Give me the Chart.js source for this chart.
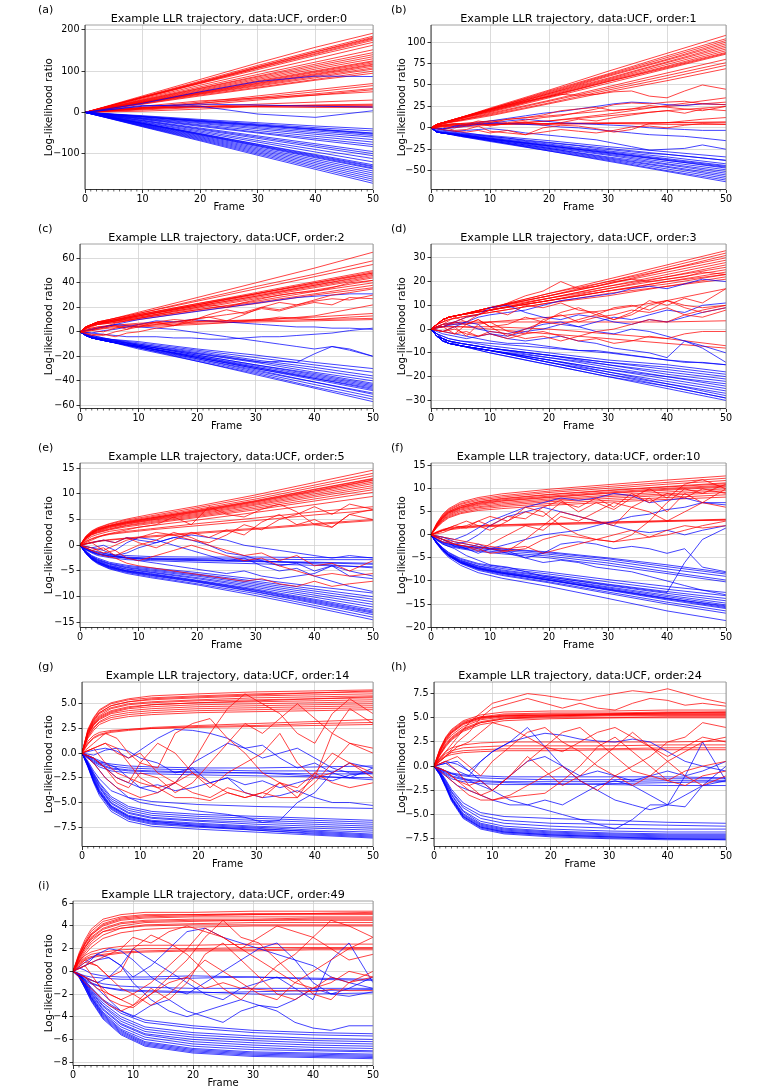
<!DOCTYPE html>
<html><head><meta charset="utf-8">
<script src="https://cdn.jsdelivr.net/npm/chart.js@4.4.1/dist/chart.umd.min.js"></script>
<style>
html,body{margin:0;padding:0;background:#fff}
body{width:762px;height:1091px;position:relative;overflow:hidden;font-family:"DejaVu Sans",sans-serif}
canvas{position:absolute}
.lab{position:absolute;font-size:11px;line-height:14px;color:#000}
</style></head><body>
<script>
// ---------- x positions (frames) ----------
const framesA = [0,10,20,30,40,50];
const framesB = [0,1,2,5,10,20,30,40,50];
const framesCD = [0,1,2,3,5,10,20,30,40,50];
const framesS = [0,1,2,3,5,8,12,20,30,40,50];
const framesJ = [0,2,4,6,8,10,13,16,19,22,25,28,31,34,37,40,43,46,50];
const xTicks = [0,10,20,30,40,50];
const orders = [0,1,2,3,5,10,14,24,49];
const letters = ['a','b','c','d','e','f','g','h','i'];
const yTicksA = [-100,0,100,200];
const yTicksB = [-50,-25,0,25,50,75,100];
const yTicksC = [-60,-40,-20,0,20,40,60];
const yTicksD = [-30,-20,-10,0,10,20,30];
const yTicksE = [-15,-10,-5,0,5,10,15];
const yTicksF = [-20,-15,-10,-5,0,5,10,15];
const yTicksG = [-7.5,-5,-2.5,0,2.5,5];
const yTicksH = [-7.5,-5,-2.5,0,2.5,5,7.5];
const yTicksI = [-8,-6,-4,-2,0,2,4,6];

// ---------- (a) order 0 ----------
const redA = [
[0,40,80,120,158,192],[0,38,76,114,150,185],[0,37,74,111,147,182],[0,37,73,110,146,180],
[0,36,72,108,143,178],[0,36,71,107,141,175],[0,35,70,104,138,170],[0,33,66,98,130,163],
[0,31,62,92,122,152],[0,30,59,88,117,145],[0,29,58,86,113,140],[0,28,56,83,109,135],
[0,27,54,80,105,130],[0,26,52,77,101,125],[0,25,50,75,99,123],[0,25,49,73,97,120],
[0,24,48,71,94,117],[0,24,47,70,92,115],[0,23,46,68,90,112],[0,23,45,66,87,108],
[0,22,44,64,84,105],[0,21,42,61,80,100],[0,20,40,59,78,95],[0,12,25,40,55,70],
[0,10,22,36,50,65],[0,10,22,33,45,58],[0,8,18,30,42,55],[0,15,28,35,42,50],
[0,8,14,20,25,30],[0,12,15,16,17,18],[0,10,14,15,16,16],[0,6,12,15,15,14],
[0,12,14,13,12,12],[0,3,8,15,18,20]
];
const blueA = [
[0,22,50,75,88,87],[0,15,20,18,15,13],[0,17,15,-4,-12,4],
[0,-8,-17,-25,-33,-40],[0,-9,-19,-28,-37,-45],[0,-10,-20,-30,-40,-50],[0,-10,-21,-31,-41,-51],
[0,-11,-22,-32,-42,-53],[0,-11,-23,-34,-45,-56],[0,-13,-25,-37,-49,-60],[0,-14,-27,-40,-53,-66],
[0,-15,-30,-44,-58,-72],[0,-16,-32,-48,-63,-78],[0,-17,-34,-50,-67,-83],[0,-19,-38,-57,-76,-95],
[0,-20,-40,-60,-80,-100],[0,-21,-42,-63,-84,-105],[0,-23,-45,-68,-90,-112],[0,-24,-48,-72,-96,-120],
[0,-26,-51,-77,-102,-127],[0,-26,-52,-78,-104,-130],[0,-27,-53,-80,-106,-132],[0,-27,-54,-81,-108,-135],
[0,-28,-55,-83,-110,-137],[0,-29,-57,-86,-114,-142],[0,-30,-59,-89,-118,-147],[0,-31,-61,-92,-122,-152],
[0,-32,-63,-95,-126,-157],[0,-33,-65,-98,-130,-162],[0,-34,-67,-101,-134,-167],[0,-35,-69,-104,-138,-172]
];

// ---------- (b) order 1 ----------
const redB = [
[0,4,6,12,23,44,66,87,108],[0,4,6,12,22,43,63,84,104],[0,4,6,12,22,42,62,82,102],
[0,4,6,12,22,41,61,80,100],[0,4,6,12,21,40,60,79,98],[0,4,6,12,21,40,58,77,96],
[0,4,6,11,21,39,57,76,94],[0,4,6,11,20,38,56,74,92],[0,4,6,11,20,37,55,72,90],
[0,4,6,11,19,37,54,71,88],[0,4,6,11,19,36,54,70,87],[0,3,5,10,18,35,52,69,86],
[0,3,5,9,17,32,48,64,80],[0,3,5,9,16,31,46,61,76],[0,3,5,9,15,29,44,58,73],
[0,3,5,8,14,28,42,55,69],[0,2,2,1,3,8,16,26,35],[0,2,3,5,8,14,20,25,30],
[0,3,4,5,5,5,6,6,6],[0,2,3,4,4,5,5,6,7],[0,1,2,3,4,8,14,20,25],[0,2,3,3,4,4,5,4,4]
];
const blueB = [
[0,-5,-6,-10,-16,-27,-39,-51,-63],[0,-5,-6,-10,-15,-27,-38,-50,-61],[0,-5,-6,-9,-15,-26,-37,-48,-59],
[0,-5,-6,-9,-15,-25,-36,-46,-57],[0,-5,-6,-9,-14,-24,-35,-45,-55],[0,-5,-6,-9,-14,-24,-34,-43,-53],
[0,-5,-6,-9,-13,-23,-32,-42,-51],[0,-5,-6,-9,-13,-22,-31,-40,-49],[0,-5,-6,-8,-13,-21,-30,-38,-47],
[0,-5,-6,-8,-13,-21,-29,-38,-46],[0,-5,-6,-8,-12,-21,-29,-37,-45],[0,-5,-6,-8,-12,-20,-28,-36,-44],
[0,-4,-5,-7,-11,-19,-27,-34,-42],[0,-4,-5,-7,-10,-17,-24,-31,-38],[0,-3,-4,-6,-9,-15,-22,-28,-34]
];
const redBJ = [
[0,5,9,13,17,21,26,31,35,39,38,39,42,43,37,35,43,50,45],
[0,3,5,4,8,6,10,12,15,20,22,24,20,22,26,24,22,20,25],
[0,1,-3,-2,2,-4,-6,-8,0,3,2,-1,-5,-2,5,6,8,10,12],
[0,2,0,3,6,2,5,7,3,6,10,8,12,15,18,20,17,22,20],
[0,-2,-4,-5,-3,-6,-3,-8,-5,-2,-4,-6,-3,1,2,0,3,5,4],
[0,2,4,3,5,8,6,9,12,14,18,22,27,29,28,30,31,28,27]
];
const blueBJ = [
[0,-2,2,4,6,8,11,14,17,19,22,25,28,30,29,27,26,28,27],
[0,-1,0,2,4,5,8,10,8,6,5,4,3,2,0,-1,-2,-3,-3],
[0,-3,-4,-3,-2,-1,-3,-6,-8,-10,-12,-14,-18,-22,-26,-25,-24,-20,-25],
[0,-2,-4,-6,-8,-10,-12,-15,-17,-19,-21,-24,-26,-28,-30,-31,-33,-35,-38],
[0,-1,1,3,5,6,5,4,3,1,0,-2,-4,-6,-8,-9,-10,-12,-15]
];

// ---------- (c) order 2 ----------
const redC = [
[0,4,6,8,10,16,28,40,52,65],[0,4,6,8,10,15,26,37,47,58],[0,4,6,8,10,15,25,35,45,55],
[0,4,6,8,9,14,23,32,41,50],[0,4,6,8,9,14,22,31,39,48],[0,4,6,7,9,13,22,30,38,47],
[0,3,5,7,9,13,21,29,38,46],[0,3,5,7,8,13,21,29,37,45],[0,3,5,7,8,12,20,28,36,44],
[0,3,5,6,8,12,19,27,34,42],[0,3,5,6,8,11,18,25,33,40],[0,3,5,6,7,11,18,24,31,38],
[0,3,4,6,7,10,17,23,30,36],[0,4,6,7,8,13,22,31,40,48],[0,4,6,8,9,14,23,31,40,49],
[0,1,2,3,4,5,7,8,9,10],[0,2,3,4,5,6,8,10,12,15],[0,1,2,2,3,4,6,9,13,22],[0,2,3,4,5,7,9,9,10,11]
];
const blueC = [
[0,-3,-5,-6,-8,-14,-24,-35,-46,-57],[0,-3,-5,-6,-8,-13,-24,-34,-45,-55],[0,-3,-5,-6,-8,-13,-23,-33,-43,-53],
[0,-3,-5,-6,-8,-13,-22,-32,-41,-51],[0,-3,-5,-6,-8,-12,-22,-31,-41,-50],[0,-3,-5,-6,-8,-12,-21,-30,-39,-48],
[0,-3,-5,-6,-8,-12,-21,-30,-38,-47],[0,-3,-5,-6,-8,-12,-21,-29,-38,-46],[0,-3,-5,-6,-8,-12,-20,-29,-37,-45],
[0,-3,-5,-6,-8,-12,-20,-28,-36,-44],[0,-3,-4,-6,-7,-11,-19,-27,-35,-43],[0,-3,-4,-6,-7,-11,-19,-27,-34,-42],
[0,-3,-4,-5,-7,-11,-18,-25,-33,-40],[0,-3,-4,-5,-7,-10,-17,-24,-31,-38],[0,-2,-4,-5,-6,-10,-16,-23,-29,-36],
[0,-2,-4,-5,-6,-9,-15,-21,-27,-33],[0,-2,-3,-4,-6,-8,-14,-19,-25,-30]
];
const redCJ = [
[0,-2,-3,0,2,4,6,8,10,12,14,16,20,18,22,25,27,26,30],
[0,1,3,5,2,6,8,5,10,12,9,14,20,24,22,26,30,32,35],
[0,-3,-2,-4,-1,0,3,5,8,9,8,9,10,12,11,10,11,12,13],
[0,2,4,7,9,11,14,17,19,22,20,24,27,30,32,33,36,40,42],
[0,1,0,3,5,4,8,10,9,14,18,15,19,17,21,24,22,28,27]
];
const blueCJ = [
[0,2,4,6,8,10,12,14,16,18,20,22,24,26,28,29,30,31,31],
[0,2,4,6,5,4,3,2,0,-2,-4,-6,-8,-10,-12,-14,-12,-14,-20],
[0,-1,-2,-3,-4,-4,-4,-5,-5,-6,-6,-5,-4,-4,-3,-2,-1,1,3],
[0,-3,-5,-7,-9,-11,-13,-15,-17,-19,-21,-23,-25,-24,-25,-18,-12,-15,-20],
[0,-1,1,2,4,6,9,8,10,9,8,7,6,5,4,4,3,3,2]
];

// ---------- (d) order 3 ----------
const redD = [
[0,2,4,5,6,9,15,21,27,33],[0,2,4,5,6,9,15,20,26,32],[0,2,4,5,6,9,14,20,25,31],
[0,2,4,5,6,9,14,19,25,30],[0,2,4,5,6,9,14,19,24,29],[0,2,4,5,6,9,13,18,23,28],
[0,2,4,5,6,8,13,18,22,27],[0,2,4,5,6,8,13,17,22,26],[0,2,4,5,6,8,12,17,21,25],
[0,2,4,5,6,8,12,16,20,24],[0,2,3,5,6,8,12,16,19,23],[0,2,3,4,5,7,11,15,18,22],
[0,2,3,4,5,7,11,14,18,21],[0,2,4,5,6,8,12,16,20,23],[0,1,1,1,1,1,0,-2,-4,-7],
[0,1,1,1,1,0,-2,-4,-6,-8],[0,1,2,2,3,3,3,3,3,3.5],[0,1,1,2,2,3,5,8,12,17]
];
const blueD = [
[0,-3,-5,-6,-7,-10,-15,-20,-25,-30],[0,-3,-5,-6,-7,-9,-14,-19,-24,-29],[0,-3,-5,-6,-7,-9,-14,-19,-23,-28],
[0,-3,-5,-6,-7,-9,-14,-18,-23,-27],[0,-3,-5,-6,-7,-9,-13,-18,-22,-26],[0,-3,-4,-6,-7,-9,-13,-17,-21,-25],
[0,-3,-4,-6,-7,-9,-13,-17,-20,-24],[0,-3,-4,-5,-7,-9,-12,-16,-20,-23],[0,-3,-4,-5,-6,-8,-12,-15,-19,-22],
[0,-3,-4,-5,-6,-8,-11,-15,-18,-21],[0,-2,-4,-5,-6,-8,-11,-14,-17,-20],[0,-2,-4,-5,-6,-8,-11,-14,-16,-19],
[0,-2,-3,-4,-5,-7,-10,-13,-15,-18],[0,-2,-3,-4,-5,-6,-8,-10,-13,-15],[0,-3,-5,-6,-7,-10,-15,-20,-24,-29]
];
const redDJ = [
[0,2,3,5,6,8,11,14,16,20,17,18,20,21,20,21,22,24,23],
[0,1,-2,2,4,1,-3,0,3,2,4,6,9,10,8,12,10,9,10],
[0,-1,1,-3,2,3,-1,-2,4,6,3,5,6,8,7,9,6,8,10],
[0,2,5,3,6,8,6,10,9,11,8,7,4,6,10,12,9,7,9],
[0,-1,-2,-1,-3,-2,-4,-2,-1,-3,-5,-4,-6,-5,-3,-4,-2,-1,-1],
[0,1,3,2,4,1,2,5,3,7,9,6,4,7,12,10,13,11,17],
[0,-1,0,-2,-3,-1,-2,-4,-3,-5,-3,-1,0,2,4,3,6,5,8]
];
const blueDJ = [
[0,1,2,3,5,6,7,8,10,12,13,14,15,17,18,17,19,21,20],
[0,1,3,5,6,9,10,7,5,4,6,5,3,2,4,3,5,7,9],
[0,-1,1,3,2,-2,-3,-1,0,2,1,3,5,4,6,8,7,10,11],
[0,-2,-3,-4,-3,-2,-4,-5,-4,-3,-5,-6,-8,-9,-10,-12,-5,-8,-14],
[0,-1,-2,-3,-4,-5,-6,-6,-7,-8,-9,-9,-10,-11,-12,-13,-14,-14,-15],
[0,2,3,2,0,-1,-2,0,2,3,1,-1,-2,0,-1,-3,-5,-7,-10]
];

// ---------- (e) order 5 ----------
const redE = [
[0,1.8,2.8,3.4,4.2,5.1,6.0,7.6,9.8,12.2,14.6],[0,1.7,2.7,3.3,4.1,4.9,5.7,7.3,9.4,11.7,14.0],
[0,1.6,2.6,3.2,3.9,4.7,5.5,7.0,9.0,11.3,13.5],[0,1.6,2.5,3.1,3.8,4.6,5.3,6.8,8.7,10.9,13.0],
[0,1.5,2.4,3.0,3.7,4.4,5.2,6.6,8.5,10.6,12.7],[0,1.5,2.3,2.9,3.6,4.3,5.0,6.4,8.2,10.3,12.3],
[0,1.4,2.3,2.8,3.5,4.2,4.9,6.2,8.0,10.0,12.0],[0,1.4,2.2,2.7,3.4,4.1,4.8,6.0,7.8,9.7,11.6],
[0,1.3,2.1,2.6,3.2,3.9,4.6,5.8,7.5,9.4,11.2],[0,1.3,2.1,2.5,3.1,3.8,4.4,5.6,7.2,9.0,10.8],
[0,1.2,2.0,2.4,3.0,3.6,4.2,5.4,6.9,8.6,10.3],[0,1.6,2.5,3.1,3.8,4.5,5.3,6.7,8.6,10.8,12.9],
[0,1.5,2.4,3.0,3.7,4.4,5.1,6.5,8.4,10.5,12.6],[0,1.0,1.7,2.1,2.7,3.2,3.8,4.9,6.4,7.9,9.5],
[0,0.8,1.3,1.7,2.2,2.7,3.2,4.2,5.3,6.5,7.5],[0,0.7,1.2,1.6,2.1,2.5,3.0,3.8,4.8,5.9,6.8],
[0,0.3,0.6,0.8,1.1,1.4,1.8,2.5,3.3,4.2,5.0],[0,0.3,0.5,0.7,1.0,1.3,1.6,2.3,3.1,4.0,4.8]
];
const blueE = [
[0,-1.6,-2.8,-3.6,-4.6,-5.5,-6.3,-7.7,-9.8,-12.1,-14.5],[0,-1.6,-2.7,-3.5,-4.5,-5.3,-6.1,-7.5,-9.4,-11.7,-14],
[0,-1.6,-2.7,-3.4,-4.4,-5.2,-5.9,-7.2,-9.1,-11.3,-13.5],[0,-1.5,-2.6,-3.3,-4.2,-5,-5.7,-7,-8.8,-10.9,-13],
[0,-1.5,-2.5,-3.2,-4.1,-4.9,-5.5,-6.8,-8.5,-10.5,-12.5],[0,-1.4,-2.4,-3.1,-4,-4.7,-5.3,-6.5,-8.2,-10.1,-12],
[0,-1.4,-2.4,-3,-3.9,-4.6,-5.2,-6.3,-7.9,-9.7,-11.5],[0,-1.3,-2.3,-2.9,-3.7,-4.4,-5,-6,-7.6,-9.3,-11],
[0,-1.3,-2.2,-2.8,-3.6,-4.3,-4.8,-5.8,-7.3,-8.9,-10.5],[0,-1.2,-2.1,-2.7,-3.5,-4.1,-4.6,-5.6,-7,-8.5,-10],
[0,-1.1,-2,-2.5,-3.3,-3.9,-4.4,-5.3,-6.6,-8,-9.3],[0,-1.5,-2.6,-3.3,-4.3,-5.1,-5.8,-7.1,-9,-11.1,-13.2],
[0,-1.5,-2.6,-3.3,-4.2,-5,-5.6,-6.9,-8.7,-10.7,-12.8],[0,-0.8,-1.4,-1.8,-2.2,-2.5,-2.7,-2.9,-3.1,-3.3,-3.5],
[0,-0.7,-1.2,-1.6,-2,-2.3,-2.5,-2.6,-2.7,-2.8,-2.8],[0,-0.9,-1.5,-2,-2.4,-2.8,-3,-3.3,-3.6,-3.9,-4.2],
[0,-0.6,-1.1,-1.4,-1.8,-2,-2.2,-2.3,-2.3,-2.4,-2.4],[0,-0.8,-1.3,-1.7,-2.1,-2.4,-2.6,-2.8,-3,-3.6,-4.4],
[0,-0.8,-1.3,-1.7,-2.1,-2.5,-2.8,-3,-3.2,-3.4,-3.7]
];
const redEJ = [
[0,-0.5,-1.5,-1,-2.5,-3,-2,-1,0,-1,-2,-3,-2.5,-4,-5,-6,-5.5,-6,-5.5],
[0,0.5,-1,0,1,1.5,2.5,2,1,0.5,2,4,3,5,6,7.5,6,8,7],
[0,-1,-2,-2.5,-3.5,-4,-4.5,-5,-5.5,-6,-6.5,-7,-6.5,-7.5,-8,-7,-8,-7.5,-7],
[0,0.5,1,0.5,1.5,0.5,-0.5,1,2.5,1.5,3,2,4.5,6,4,5,3.5,6,5],
[0,-1,-0.5,-2,-1,0,1,2.5,1.5,0,-1,-2,-1.5,-3,-2,-4,-3.5,-5,-3],
[0,1,2,2.5,3,3.5,4,5.5,4,7.5,6,5.5,7,8,6.5,4,3.5,6,7]
];
const blueEJ = [
[0,0.5,1,0.5,1.5,1,0.5,1.5,2,1.5,1,0,-0.5,-1,-1.5,-2,-2.5,-2,-2.5],
[0,-0.5,0,-1,0.5,1.5,1,0,-1,-2,-3,-2.5,-4,-5,-4.5,-6,-7,-8,-9],
[0,-0.5,-1,-2,-1.5,-0.5,0.5,1.5,1,0,-1.5,-2,-3,-4,-3.5,-5,-4,-6,-6.5],
[0,-1,-1.5,-2,-2.5,-3,-3.5,-4,-4.5,-5,-5.5,-5,-6,-6.5,-6,-5.5,-4,-5,-6]
];

// ---------- (f) order 10 ----------
const redF = [
[0,2.6,4.5,5.7,7.1,8.1,8.9,9.9,10.9,11.9,12.8],[0,2.5,4.3,5.5,6.8,7.8,8.5,9.5,10.5,11.4,12.3],
[0,2.4,4.1,5.3,6.6,7.5,8.2,9.2,10.1,11,11.8],[0,2.3,4,5.1,6.3,7.2,7.9,8.8,9.7,10.5,11.3],
[0,2.2,3.8,4.9,6,6.9,7.6,8.4,9.3,10.1,10.8],[0,2.1,3.6,4.7,5.8,6.6,7.3,8.1,9,9.7,10.4],
[0,2,3.5,4.5,5.6,6.4,7,7.8,8.6,9.3,10],[0,1.9,3.3,4.3,5.4,6.1,6.7,7.5,8.3,8.9,9.6],
[0,1.8,3.2,4.1,5.1,5.9,6.4,7.2,7.9,8.6,9.2],[0,1.7,3,3.9,4.8,5.6,6.1,6.8,7.5,8.1,8.7],
[0,1.6,2.8,3.7,4.6,5.3,5.7,6.4,7.1,7.7,8.2],[0,2.3,3.9,5,6.2,7.1,7.8,8.7,9.6,10.4,11.1],
[0,2.1,3.7,4.8,5.9,6.8,7.4,8.2,9.1,9.9,10.6],[0,0.6,1,1.3,1.6,1.9,2.1,2.4,2.7,3,3.2],
[0,0.5,0.9,1.1,1.4,1.7,1.9,2.2,2.5,2.9,3.3],[0,0.7,1.2,1.5,1.8,2,2.2,2.5,2.8,3.1,3.4]
];
const blueF = [
[0,-2,-3.6,-4.9,-6.6,-8.2,-9.4,-11.2,-13.8,-16.5,-18.6],[0,-1.9,-3.4,-4.6,-6.2,-7.7,-8.8,-10.4,-12.7,-15,-17],
[0,-1.9,-3.4,-4.6,-6.1,-7.5,-8.6,-10.2,-12.4,-14.6,-16.5],[0,-1.9,-3.3,-4.5,-6,-7.4,-8.4,-9.9,-12,-14.1,-16],
[0,-1.8,-3.3,-4.4,-5.9,-7.2,-8.2,-9.7,-11.7,-13.7,-15.6],[0,-1.8,-3.2,-4.3,-5.8,-7.1,-8.1,-9.5,-11.5,-13.4,-15.2],
[0,-1.8,-3.2,-4.3,-5.7,-7,-8,-9.4,-11.3,-13.1,-14.8],[0,-1.7,-3.1,-4.2,-5.6,-6.8,-7.8,-9.1,-11,-12.7,-14.3],
[0,-1.7,-3,-4.1,-5.5,-6.7,-7.6,-8.9,-10.7,-12.3,-13.8],[0,-1.6,-2.9,-3.9,-5.3,-6.4,-7.3,-8.5,-10.2,-11.8,-13.2],
[0,-1.5,-2.8,-3.8,-5.1,-6.2,-7,-8.1,-9.7,-11.2,-12.5],[0,-1.8,-3.3,-4.4,-5.9,-7.3,-8.3,-9.8,-11.9,-13.9,-15.8],
[0,-1.9,-3.3,-4.5,-6,-7.3,-8.3,-9.8,-11.8,-13.8,-15.4],[0,-1,-1.6,-2,-2.4,-2.8,-3.1,-3.9,-5.2,-6.9,-8.5],
[0,-0.9,-1.5,-1.9,-2.3,-2.7,-3,-3.7,-5,-6.5,-8.2],[0,-1,-1.7,-2.1,-2.6,-3,-3.4,-4.2,-5.6,-7.4,-9],
[0,-1.1,-1.8,-2.3,-2.8,-3.3,-3.8,-4.6,-6.1,-8,-9.8],[0,-1.2,-2,-2.5,-3,-3.6,-4.1,-5,-6.6,-8.4,-10.2]
];
const redFJ = [
[0,-1,-1.5,-2,-2.5,-3,-3.5,-3,-1,0,-0.5,-1,-1.5,-1,-0.5,0,1,2,3],
[0,-1.5,-2,-2.5,-3,-4,-3.5,-1,2,5,4,3,2,6,8,5,9,7,10],
[0,0.5,1.5,2,3,4,3,6,5,2,0,-1,-1.5,0,3,7,10,9,11],
[0,1,2,1.5,3,2,4,3.5,6,7.5,5,7,5.5,8,10,8,11,12,10],
[0,-0.5,-1,-1.5,-2,-2.5,-3,-2.5,-4,-3,-2,-1,0,1,-0.5,1,2,1.5,2],
[0,1,2,3,2,1,3,5,4,7,6,8,6,9,7,9,8,10,9],
[0,-1,-2,-2.5,-3.5,-2,0,2,1,4,3,5,7,6,5,3,5,7,6]
];
const blueFJ = [
[0,-0.5,-1,0,1.5,3,4.5,6,7,8,7.5,8,9,8.5,7,7.5,8,7,6.5],
[0,-1,-2,-1.5,0,2,4,5,6,5,4,3,2,1,0.5,1,0,1,2],
[0,-1,-2,-3,-2,-3,-4,-5,-4,-2,-1.5,-2,-3,-2.5,-3,-4,-3,-7,-8],
[0,-2,-3,-4.5,-5.5,-6.5,-7,-8,-9,-9.5,-10,-10.5,-11,-11.5,-12,-12.5,-6,-1,1.5],
[0,-1,-2.5,-3,-4,-3,-2,-1,0,0.5,1,2,3,4,4.5,5.5,6,7,7],
[0,-0.5,-1.5,-2,-2.5,-3,-3.5,-5,-6,-5.5,-6,-7,-7.5,-8,-9,-10,-11,-12,-13]
];

// ---------- (g) order 14 ----------
const redG = [
[0,2.4,3.6,4.4,5.1,5.5,5.8,6,6.2,6.3,6.4],[0,2.3,3.5,4.3,5,5.4,5.6,5.8,6,6.1,6.2],
[0,2.2,3.4,4.1,4.8,5.2,5.4,5.6,5.8,5.9,6],[0,2.1,3.2,4,4.6,5,5.2,5.4,5.6,5.7,5.8],
[0,2.1,3.1,3.8,4.5,4.9,5.1,5.3,5.4,5.5,5.6],[0,2,3,3.7,4.3,4.7,4.9,5.1,5.2,5.3,5.4],
[0,1.9,2.9,3.5,4.1,4.5,4.7,4.9,5,5.1,5.2],[0,1.8,2.8,3.4,4,4.3,4.5,4.7,4.8,4.9,5],
[0,1.7,2.6,3.2,3.8,4.1,4.3,4.5,4.6,4.7,4.8],[0,1.6,2.5,3.1,3.6,3.9,4.1,4.3,4.4,4.5,4.6],
[0,1.5,2.3,2.9,3.4,3.7,3.9,4.1,4.2,4.3,4.4],[0,2.2,3.3,4.1,4.8,5.2,5.5,5.7,5.9,6.1,6.3],
[0,1.9,2.9,3.6,4.2,4.6,4.9,5.1,5.3,5.5,5.7],[0,1,1.6,1.9,2.2,2.4,2.6,2.8,3,3.2,3.4],
[0,0.9,1.5,1.8,2.1,2.3,2.5,2.7,2.8,3,3.1],[0,1.2,1.8,2.1,2.3,2.4,2.5,2.6,2.7,2.8,2.9]
];
const blueG = [
[0,-1.4,-3,-4.3,-5.9,-6.9,-7.4,-7.7,-8,-8.3,-8.6],[0,-1.3,-2.9,-4.1,-5.7,-6.7,-7.2,-7.5,-7.8,-8.1,-8.4],
[0,-1.3,-2.8,-4,-5.6,-6.6,-7.1,-7.4,-7.7,-7.9,-8.2],[0,-1.2,-2.6,-3.8,-5.4,-6.4,-6.9,-7.2,-7.5,-7.8,-8],
[0,-1.2,-2.5,-3.7,-5.3,-6.3,-6.8,-7.1,-7.4,-7.6,-7.8],[0,-1.1,-2.4,-3.5,-5.1,-6.1,-6.6,-6.9,-7.2,-7.4,-7.6],
[0,-1.1,-2.3,-3.4,-5,-6,-6.5,-6.8,-7,-7.2,-7.4],[0,-1,-2.2,-3.3,-4.8,-5.8,-6.3,-6.6,-6.8,-7,-7.2],
[0,-1,-2.1,-3.1,-4.6,-5.6,-6.1,-6.4,-6.6,-6.8,-7],[0,-0.9,-2,-3,-4.4,-5.4,-5.9,-6.2,-6.4,-6.6,-6.8],
[0,-1.3,-2.8,-4,-5.5,-6.5,-7,-7.4,-7.8,-8.2,-8.5],[0,-1.2,-2.7,-3.9,-5.4,-6.4,-6.9,-7.3,-7.6,-8,-8.3],
[0,-0.8,-1.8,-2.6,-3.8,-4.5,-4.9,-5.2,-5.4,-5.5,-5.6],[0,-0.4,-0.9,-1.2,-1.6,-1.8,-1.9,-2,-2,-2.1,-2.1],
[0,-0.3,-0.7,-1,-1.3,-1.5,-1.6,-1.7,-1.8,-1.8,-1.9],[0,-0.5,-1,-1.4,-1.8,-2,-2.1,-2.2,-2.3,-2.4,-2.5],
[0,-0.3,-0.6,-0.9,-1.1,-1.3,-1.4,-1.5,-1.5,-1.4,-1.3],[0,-0.4,-0.8,-1.1,-1.5,-1.7,-1.8,-1.9,-2,-2.3,-2.7]
];
const redGJ = [
[0,0.5,1,0.5,-1,-2.5,-3.5,-3,-4,-4.5,-3.5,-4,-4.5,-3,-3.5,-2,-3,-3.5,-3],
[0,-0.5,-1.5,-2.5,-3,-1,1,0,-2,-3,-4,-4.5,-4,-3,-4.5,-3,-1,1,0.5],
[0,0.5,1,0,-0.5,0,-2,-3,-1,2,4.5,6,5,4,2,1,4,5.5,4],
[0,-1,-2.5,-3.5,-4,-4.5,-4,-3,-2,-3.5,-2,-1,0,2,-1,-2.5,-2,-1,-2],
[0,1,2,1.5,0,-1,-1.5,2,3,3.5,1.5,0,-2,-3,-4,-2.5,2,4.5,3],
[0,-0.5,-1.5,-3,-3.5,-2,-2.5,-4,-3,-1,1,3,2,3.5,5,3.5,2,1,0],
[0,0.5,-1,-2,-2.5,-3,-3.5,-4.5,-4.5,-4.8,-4,-4.5,-4,-4.5,-4.5,-2,0,-1,-2.5]
];
const blueGJ = [
[0,0.3,0.5,0.2,-0.5,0.3,1.5,2.4,2.3,2,1.5,0.5,-0.5,0,0.5,-0.5,-1.5,-2,-2],
[0,-0.5,-1,-1.5,-2.5,-3.5,-4,-3,-1,0,1,0.5,0.8,-0.5,-1.5,-1,-2,-2.5,-1.5],
[0,-0.2,0.3,0.5,0.2,-0.5,-1,-2,-1.5,-3,-2.5,-4,-4.5,-4.3,-3.8,-4.5,-5,-5,-5.3],
[0,-1,-2.5,-3.5,-4.5,-5,-5.3,-5.5,-5.8,-6,-6.2,-6.5,-7,-6.8,-5,-4,-2,-1,-1.5],
[0,-0.5,-1.5,-2.5,-3,-3.5,-3.2,-3.8,-3.5,-3,-2.5,-3.2,-2.8,-3.5,-3,-2.5,-2.8,-2.2,-2]
];

// ---------- (h) order 24 ----------
const redH = [
[0,1.8,3,3.8,4.7,5.3,5.6,5.7,5.7,5.8,5.8],[0,1.7,2.9,3.6,4.5,5.1,5.4,5.5,5.5,5.6,5.6],
[0,1.6,2.8,3.5,4.4,5,5.3,5.4,5.4,5.5,5.5],[0,1.5,2.6,3.4,4.3,4.9,5.2,5.3,5.3,5.4,5.4],
[0,1.4,2.5,3.2,4.1,4.8,5.1,5.2,5.3,5.3,5.3],[0,1.3,2.3,3,3.9,4.6,5,5.1,5.2,5.2,5.2],
[0,1.2,2.2,2.9,3.8,4.5,4.9,5,5,5.1,5.1],[0,1.1,2,2.7,3.6,4.3,4.7,4.9,5,5,5],
[0,1.2,2.1,2.8,3.7,4.5,4.9,5.2,5.4,5.5,5.6],[0,1.7,2.9,3.7,4.6,5.1,5.2,5.2,5.3,5.3,5.3],
[0,1.5,2.7,3.5,4.4,5,5.2,5.3,5.4,5.5,5.5],[0,0.8,1.3,1.6,1.9,2,2.1,2.1,2.1,2.2,2.2],
[0,0.7,1.1,1.4,1.6,1.7,1.8,1.8,1.8,1.9,1.9],[0,0.9,1.5,1.9,2.2,2.4,2.5,2.5,2.5,2.5,2.6],
[0,0.6,1,1.2,1.4,1.5,1.6,1.6,1.7,1.7,1.7]
];
const blueH = [
[0,-0.9,-2.2,-3.6,-5.4,-6.5,-7,-7.3,-7.5,-7.6,-7.6],[0,-0.9,-2.1,-3.5,-5.3,-6.4,-6.9,-7.2,-7.4,-7.5,-7.5],
[0,-0.8,-2,-3.4,-5.2,-6.3,-6.8,-7.1,-7.3,-7.4,-7.4],[0,-0.8,-2,-3.3,-5.1,-6.2,-6.7,-7,-7.2,-7.3,-7.3],
[0,-0.8,-2,-3.3,-5,-6.1,-6.6,-6.9,-7.1,-7.2,-7.2],[0,-0.7,-1.9,-3.2,-4.9,-6,-6.5,-6.8,-7,-7.1,-7.1],
[0,-0.7,-1.8,-3,-4.7,-5.9,-6.4,-6.7,-6.9,-7,-7],[0,-0.6,-1.7,-2.9,-4.6,-5.7,-6.2,-6.5,-6.7,-6.8,-6.8],
[0,-0.6,-1.6,-2.7,-4.3,-5.4,-5.9,-6.2,-6.4,-6.5,-6.5],[0,-0.6,-1.5,-2.6,-4.1,-5.1,-5.6,-5.9,-6,-6.1,-6.2],
[0,-0.5,-1.4,-2.4,-3.8,-4.8,-5.2,-5.4,-5.6,-5.8,-5.9],[0,-0.8,-2.1,-3.4,-5.2,-6.3,-6.8,-7.1,-7.3,-7.5,-7.6],
[0,-0.3,-0.7,-1,-1.3,-1.5,-1.6,-1.6,-1.6,-1.5,-1.5],[0,-0.4,-0.9,-1.3,-1.6,-1.8,-1.9,-1.9,-1.8,-1.7,-1.6],
[0,-0.2,-0.5,-0.7,-0.9,-1,-1.1,-1.1,-1.1,-1.1,-1.2],[0,-0.3,-0.6,-0.8,-1,-1.2,-1.3,-1.4,-1.4,-1.3,-1.3],
[0,-0.4,-0.8,-1.1,-1.4,-1.6,-1.7,-1.8,-1.9,-2,-2]
];
const redHJ = [
[0,1.5,3,4.5,5.5,6.5,7,7.5,7.3,7,6.8,7.2,7.5,7.8,7.6,8,7.5,7,6.5],
[0,1,2.5,3.5,5,6,6.5,7,6.5,6,6.5,6,5.8,6.5,7,6.8,6.3,6.5,6.2],
[0,-0.5,-1.5,-2.5,-3,-2.5,-1,0.5,2,3.5,4,2.5,1,-0.5,-1,-1.5,-0.5,0,0.5],
[0,0.5,-0.5,-2,-3,-3.5,-3,-2,-1,0,-1.5,-2.5,-1,0,1,2.5,3,4.5,4],
[0,-1,-2,-3,-3.5,-3.5,-3.2,-3,-2.8,-1.5,0,2,3,1.5,0,-1.5,-2,-1,-0.5],
[0,0.5,1,0,-1,0.5,2,3.5,4,2.5,1.5,0,-1,-2,-1,0.5,1.5,2.5,3],
[0,-0.5,-1.5,-2,-1.5,-2.5,-1,1,-0.5,-2,-1,0.5,2,3.5,2,0.5,-1,-2,-1],
[0,1,2,2.5,3.5,4.5,4,3,2,1.5,2.5,3.5,4,3,2,1,2,3,2.5]
];
const blueHJ = [
[0,0.3,-0.5,-1,0.5,1.5,2.5,4,2,0,-1.5,-2.5,-3.5,-4,-4.5,-4,-3,-2,-1.5],
[0,0.5,0.2,-0.5,0.5,1.5,2.5,3,3.4,3.2,2.8,2.6,2.5,2.8,2.5,1.5,0.5,0,-0.5],
[0,-1,-2,-2.5,-3,-3.5,-4,-4,-4.5,-5,-5.5,-6,-6.5,-5.5,-4,-4,-1,2.5,-1.5],
[0,0.3,0.5,-0.5,-1.5,-2.5,-1,0.5,1,0,-1,-0.5,-1,-1.5,-1,-0.5,-1,-0.5,0.5],
[0,-0.5,-1,-1.5,-2,-2.5,-3.5,-4,-3.5,-4,-3,-2,-1.5,-2,-3,-4,-4.2,-2,0]
];

// ---------- (i) order 49 ----------
const redI = [
[0,1.6,2.8,3.7,4.6,5,5.2,5.2,5.3,5.3,5.3],[0,1.5,2.6,3.5,4.4,4.8,5,5,5.1,5.1,5.1],
[0,1.4,2.5,3.3,4.2,4.7,4.9,5,5,5,5],[0,1.3,2.4,3.2,4,4.5,4.7,4.8,4.8,4.8,4.8],
[0,1.2,2.2,3,3.8,4.3,4.5,4.6,4.6,4.7,4.7],[0,1.1,2.1,2.9,3.7,4.2,4.4,4.5,4.5,4.6,4.6],
[0,1,1.9,2.6,3.5,4,4.3,4.4,4.5,4.5,4.5],[0,0.9,1.7,2.4,3.2,3.8,4.1,4.2,4.3,4.3,4.3],
[0,1.2,2.1,2.8,3.5,3.8,4,4.1,4.1,4.1,4.1],[0,0.8,1.5,2.1,2.9,3.4,3.7,3.9,4,4,4],
[0,1.4,2.4,3.2,4.1,4.6,4.8,4.9,5,5.1,5.2],[0,0.7,1.1,1.3,1.5,1.7,1.8,1.9,1.9,2,2],
[0,0.8,1.2,1.5,1.7,1.9,2,2,2.1,2.1,2.1],[0,0.6,1,1.2,1.4,1.6,1.7,1.8,1.8,1.9,1.9],
[0,0.9,1.4,1.7,2,2.2,2.3,2.3,2.4,2.4,2.4]
];
const blueI = [
[0,-0.5,-1.5,-2.6,-4.2,-5.6,-6.6,-7.2,-7.5,-7.6,-7.7],[0,-0.5,-1.5,-2.5,-4.1,-5.5,-6.5,-7.1,-7.4,-7.5,-7.6],
[0,-0.5,-1.4,-2.4,-4,-5.4,-6.4,-7,-7.3,-7.4,-7.5],[0,-0.4,-1.3,-2.3,-3.9,-5.3,-6.3,-6.9,-7.2,-7.3,-7.4],
[0,-0.4,-1.3,-2.3,-3.8,-5.2,-6.2,-6.8,-7.1,-7.2,-7.3],[0,-0.4,-1.2,-2.2,-3.7,-5.1,-6,-6.6,-6.9,-7,-7.1],
[0,-0.4,-1.2,-2.1,-3.6,-4.9,-5.8,-6.4,-6.7,-6.9,-7],[0,-0.4,-1.1,-2,-3.4,-4.7,-5.6,-6.2,-6.5,-6.7,-6.8],
[0,-0.3,-1.1,-1.9,-3.3,-4.6,-5.5,-6,-6.3,-6.5,-6.6],[0,-0.3,-1,-1.8,-3.1,-4.4,-5.3,-5.8,-6.1,-6.3,-6.4],
[0,-0.3,-1,-1.7,-3,-4.2,-5.1,-5.6,-5.9,-6.1,-6.2],[0,-0.3,-0.9,-1.6,-2.8,-4,-4.9,-5.4,-5.7,-5.9,-6],
[0,-0.2,-0.8,-1.5,-2.6,-3.7,-4.5,-5,-5.4,-5.6,-5.7],[0,-0.2,-0.8,-1.4,-2.5,-3.5,-4.3,-4.8,-5.2,-5.4,-5.5],
[0,-0.3,-0.6,-0.8,-1.1,-1.3,-1.4,-1.5,-1.5,-1.5,-1.5],[0,-0.2,-0.4,-0.5,-0.6,-0.7,-0.7,-0.6,-0.5,-0.6,-0.7],
[0,-0.4,-0.8,-1.1,-1.4,-1.7,-1.8,-1.9,-1.8,-1.7,-1.6],[0,0.3,0.1,-0.2,-0.4,-0.5,-0.5,-0.4,-0.5,-0.7,-0.8],
[0,-0.3,-0.7,-1,-1.4,-1.6,-1.7,-1.8,-2,-2,-1.9]
];
const redIJ = [
[0,0.8,0.5,-0.5,-1.5,-2,-1,0.5,2,3.8,3,2,1,0,-1,-1.5,-1,0,-0.5],
[0,-0.5,-1,-2,-2.5,-3,-2,-1,-0.5,-1.5,-1,-1.5,-1.6,-1.7,-1.7,-1.8,-1.6,-1.7,-1.7],
[0,0.5,-1,-2.5,-3,-3.2,-2,-0.5,1,3,4.5,3,2.5,1,-0.5,-2,-2.5,-1,0],
[0,1,0.5,-0.5,0,2,3.2,2.5,1.5,0,-1.5,-2.5,-1,0.5,1.5,3,2,1,1.5],
[0,-0.5,-1.5,-2,-2.5,-2,-3,-2,-0.5,1,0,-1,-2,-2.5,-1,0,1,2,3],
[0,0.5,1,1.5,2,3,2.5,3.5,4,3.5,3,2,3,4,3.5,3,4.5,4,3],
[0,-1,-2,-3,-3.5,-3,-1.5,-2.5,-1,1.5,2.5,1,-0.5,-2,-2.5,-1.5,-0.5,-1,-0.5]
];
const blueIJ = [
[0,0.5,1,1.2,0.5,-0.5,0.5,2,3.5,3.8,3,2.5,2,1.5,1,0.5,-0.5,-1,-1.5],
[0,0.8,1.5,1.2,0.5,-1,-2.5,-3.5,-4,-3.5,-3,-2.5,-3,-3.2,-2.5,-1.5,-2,-2.2,-1.8],
[0,-0.5,-1.5,-2.5,-3.5,-4,-3,-2.5,-3.5,-4,-4.5,-3.5,-3,-3.5,-4.5,-5,-5.2,-4.8,-4.8],
[0,0.5,1.5,2,1.8,1,-0.5,-1.5,-2,-1,0,1,2,2.5,1,-1,-2,-1.5,-0.5],
[0,-0.5,-1,-0.5,0.5,2,1,0,-1,-2,-2.5,-1.5,-1,-0.5,-1.5,-2.5,1,2.5,-1]
];

// ---------- layout / style (kept apart from data) ----------
const RED = 'rgba(255,0,0,0.78)';
const BLUE = 'rgba(0,0,255,0.78)';
const LINE_W = 0.95;
const CANVAS_W = 381, CANVAS_H = 219;
const panels = [
  {sf:framesA, red:redA, blue:blueA, rj:[], bj:[], ticks:yTicksA, min:-187, max:212, dec:0, col:0, row:0, left:85},
  {sf:framesB, red:redB, blue:blueB, rj:redBJ, bj:blueBJ, ticks:yTicksB, min:-72, max:120, dec:0, col:1, row:0, left:50},
  {sf:framesCD, red:redC, blue:blueC, rj:redCJ, bj:blueCJ, ticks:yTicksC, min:-62.6, max:71.7, dec:0, col:0, row:1, left:80},
  {sf:framesCD, red:redD, blue:blueD, rj:redDJ, bj:blueDJ, ticks:yTicksD, min:-33.4, max:35.8, dec:0, col:1, row:1, left:50},
  {sf:framesS, red:redE, blue:blueE, rj:redEJ, bj:blueEJ, ticks:yTicksE, min:-16, max:16, dec:0, col:0, row:2, left:80},
  {sf:framesS, red:redF, blue:blueF, rj:redFJ, bj:blueFJ, ticks:yTicksF, min:-20.1, max:15.6, dec:0, col:1, row:2, left:50},
  {sf:framesS, red:redG, blue:blueG, rj:redGJ, bj:blueGJ, ticks:yTicksG, min:-9.45, max:7.2, dec:1, col:0, row:3, left:82},
  {sf:framesS, red:redH, blue:blueH, rj:redHJ, bj:blueHJ, ticks:yTicksH, min:-8.3, max:8.7, dec:1, col:1, row:3, left:53},
  {sf:framesS, red:redI, blue:blueI, rj:redIJ, bj:blueIJ, ticks:yTicksI, min:-8.3, max:6.2, dec:0, col:0, row:4, left:73}
];

Chart.defaults.font.family = '"DejaVu Sans", sans-serif';
Chart.defaults.color = '#000';

function fmt(v, dec){
  const s = dec ? Math.abs(v).toFixed(dec) : String(Math.abs(v));
  return (v < 0 ? '\u2212' : '') + s;
}
function series(frames, rows, color){
  return rows.map(r => ({
    data: r.map((v, i) => ({x: frames[i], y: v})),
    borderColor: color, borderWidth: LINE_W, pointRadius: 0, fill: false, tension: 0
  }));
}
const framePlugin = {
  id: 'frame',
  afterDraw(chart){
    const {ctx, chartArea: a, scales: {x}} = chart;
    ctx.save();
    ctx.lineWidth = 0.8;
    ctx.strokeStyle = '#8c8c8c';
    ctx.beginPath(); ctx.moveTo(a.left, a.top); ctx.lineTo(a.right, a.top); ctx.lineTo(a.right, a.bottom); ctx.stroke();
    ctx.strokeStyle = '#000';
    ctx.beginPath(); ctx.moveTo(a.left, a.top); ctx.lineTo(a.left, a.bottom); ctx.lineTo(a.right, a.bottom); ctx.stroke();
    ctx.lineWidth = 0.6;
    ctx.beginPath();
    for (let f = x.min; f <= x.max; f++) {
      if (xTicks.includes(f)) continue;
      const px = x.getPixelForValue(f);
      ctx.moveTo(px, a.bottom); ctx.lineTo(px, a.bottom + 2);
    }
    ctx.stroke();
    ctx.restore();
  }
};

panels.forEach((p, k) => {
  const cv = document.createElement('canvas');
  cv.width = CANVAS_W; cv.height = CANVAS_H;
  cv.style.left = (p.col * 381) + 'px';
  cv.style.top = (p.row * 219) + 'px';
  document.body.appendChild(cv);
  const lab = document.createElement('div');
  lab.className = 'lab';
  lab.textContent = '(' + letters[k] + ')';
  lab.style.left = (p.col ? 391 : 38) + 'px';
  lab.style.top = (p.row * 219 + 3) + 'px';
  document.body.appendChild(lab);

  const datasets = [
    ...series(framesJ, p.rj, RED),
    ...series(framesJ, p.bj, BLUE),
    ...series(p.sf, p.blue, BLUE),
    ...series(p.sf, p.red, RED)
  ];
  const grid = {color: '#d2d2d2', lineWidth: 0.8, tickLength: 3.5, tickColor: '#000', tickWidth: 0.8};
  new Chart(cv, {
    type: 'line',
    data: {datasets},
    options: {
      responsive: false, animation: false, events: [],
      layout: {padding: {left: 0, right: p.col ? 36 : 8, top: 0, bottom: 0}},
      plugins: {
        legend: {display: false}, tooltip: {enabled: false},
        title: {display: true, fullSize: false, text: 'Example LLR trajectory, data:UCF, order:' + orders[k],
                font: {size: 11.2, weight: 'normal', lineHeight: '12px'}, padding: {top: 13, bottom: 0}, color: '#000'}
      },
      scales: {
        x: {
          type: 'linear', min: 0, max: 50,
          afterBuildTicks: s => { s.ticks = xTicks.map(v => ({value: v})); },
          afterFit: s => { s.height = 29.5; },
          grid, border: {display: false},
          ticks: {font: {size: 9.6}, color: '#000', padding: 1, maxRotation: 0, autoSkip: false},
          title: {display: true, text: 'Frame', font: {size: 10}, color: '#000', padding: {top: 0, bottom: 5.3}}
        },
        y: {
          type: 'linear', min: p.min, max: p.max,
          afterBuildTicks: s => { s.ticks = p.ticks.map(v => ({value: v})); },
          afterFit: s => { s.width = p.left; },
          grid, border: {display: false},
          ticks: {font: {size: 9.6}, color: '#000', padding: 2, autoSkip: false, callback: v => fmt(v, p.dec)},
          title: {display: true, text: 'Log-likelihood ratio', font: {size: 10.3}, color: '#000',
                  padding: {top: p.col ? 15 : 43.5, bottom: 0}}
        }
      }
    },
    plugins: [framePlugin]
  });
});
</script>
</body></html>
